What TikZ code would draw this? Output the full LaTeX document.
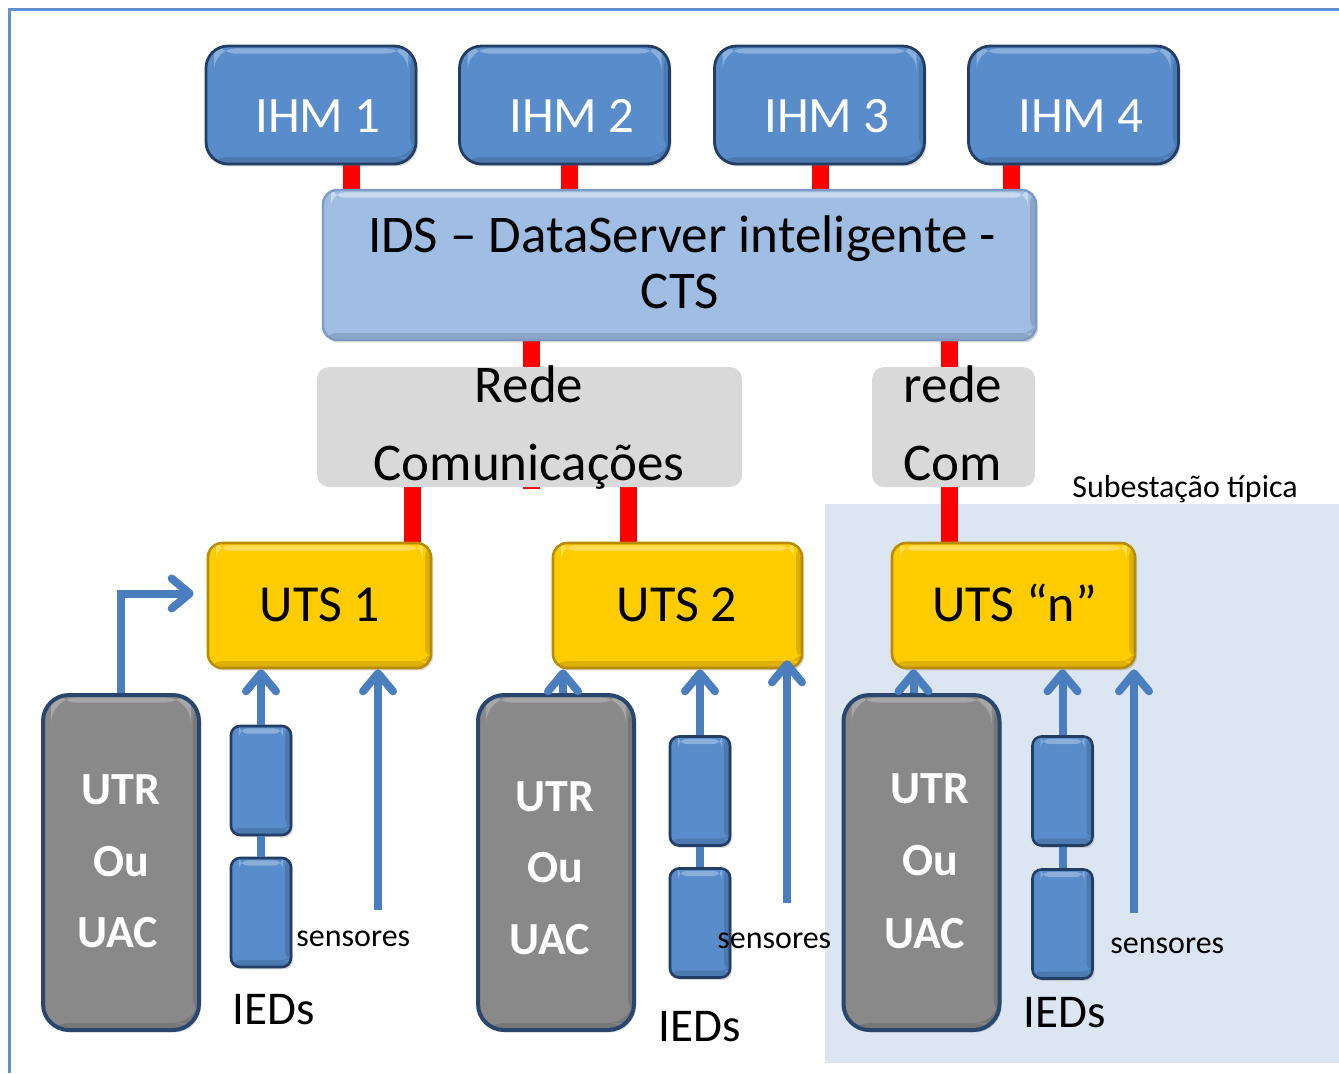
\documentclass[tikz,border=0pt]{standalone}
\usepackage{fontspec}
\setmainfont{Carlito}
\usetikzlibrary{arrows.meta,shadows}
\pgfdeclarelayer{bg}
\pgfdeclarelayer{links}
\pgfsetlayers{bg,links,main}
\definecolor{ihmfill}{RGB}{88,140,203}
\definecolor{ihmedge}{RGB}{35,62,100}
\definecolor{idsfill}{RGB}{160,190,228}
\definecolor{idsedge}{RGB}{125,155,195}
\definecolor{utsfill}{RGB}{255,204,0}
\definecolor{utsedge}{RGB}{185,140,0}
\definecolor{utrfill}{RGB}{137,137,137}
\definecolor{utredge}{RGB}{40,70,110}
\definecolor{netfill}{RGB}{217,217,217}
\definecolor{regfill}{RGB}{220,230,242}
\definecolor{arrblue}{RGB}{74,126,190}
\definecolor{frameblue}{RGB}{95,145,210}
\begin{document}
\begin{tikzpicture}[x=0.5pt,y=-0.5pt,
  hl/.style={path picture={
    \fill[white,opacity=#1] ([xshift=4pt,yshift=-1.2pt]path picture bounding box.north west) rectangle ([xshift=-4pt,yshift=-3.8pt]path picture bounding box.north east);
    \fill[black,opacity=0.13] ([yshift=3.5pt]path picture bounding box.south west) rectangle (path picture bounding box.south east);
    \fill[black,opacity=0.13] ([xshift=-3pt]path picture bounding box.north east) rectangle ([yshift=3.5pt]path picture bounding box.south east);
  }},
  shad/.style={drop shadow={shadow xshift=1pt,shadow yshift=-1.2pt,opacity=0.3}},
  ihmbox/.style={draw=ihmedge, fill=ihmfill, rounded corners=11pt, line width=1.4pt, minimum width=105pt, minimum height=59pt, inner sep=0pt, hl=0.3, shad},
  idsbox/.style={draw=idsedge, fill=idsfill, rounded corners=7pt, line width=1.2pt, minimum width=356.5pt, minimum height=75pt, inner sep=0pt, hl=0.45, shad},
  netbox/.style={fill=netfill, rounded corners=6pt, minimum height=60pt, inner sep=0pt},
  utsbox/.style={draw=utsedge, fill=utsfill, rounded corners=7pt, line width=1.3pt, minimum height=62.5pt, inner sep=0pt, hl=0.35, shad},
  utrbox/.style={draw=utredge, fill=utrfill, rounded corners=13pt, line width=2pt, minimum width=78pt, minimum height=167.5pt, inner sep=0pt, hl=0.25, shad},
  iedbox/.style={draw=ihmedge, fill=ihmfill, rounded corners=4.5pt, line width=1.3pt, minimum width=30pt, minimum height=54.5pt, inner sep=0pt, hl=0.3, shad},
  regionbox/.style={fill=regfill, minimum width=257pt, minimum height=279.5pt, inner sep=0pt},
  ihmtext/.style={text=white, font=\fontsize{25.5}{30}\selectfont, anchor=base, inner sep=0pt},
  bigtext/.style={font=\fontsize{26.5}{32}\selectfont, anchor=base, inner sep=0pt},
  utstext/.style={font=\fontsize{26}{31}\selectfont, anchor=base, inner sep=0pt},
  utrtext/.style={text=white, font=\bfseries\fontsize{23}{28}\selectfont, anchor=base, inner sep=0pt},
  smalltext/.style={font=\fontsize{16}{19}\selectfont, anchor=base west, inner sep=0pt},
  iedtext/.style={font=\fontsize{23.5}{28}\selectfont, anchor=base west, inner sep=0pt},
  redlink/.style={draw=red, line width=8.5pt},
  bline/.style={draw=arrblue, line width=4pt},
  barrow/.style={draw=arrblue, line width=4pt, -{Straight Barb[length=9pt,width=15pt,round]}},
  frameline/.style={draw=frameblue, line width=1.5pt}
]
\useasboundingbox (0,0) rectangle (1339,1073);

% background region
\begin{pgfonlayer}{bg}
\node[regionbox] (region) at (1082,783.5) {};
\end{pgfonlayer}

% frame
\draw[frameline] (9,1073) -- (9,9) -- (1339,9);

% IHM boxes
\node[ihmbox] (ihm1) at (311,105) {};
\node[ihmbox] (ihm2) at (564.5,105) {};
\node[ihmbox] (ihm3) at (819.5,105) {};
\node[ihmbox] (ihm4) at (1073.5,105) {};
\node[ihmtext] (ihm1t) at (318,132) {IHM 1};
\node[ihmtext] (ihm2t) at (572,132) {IHM 2};
\node[ihmtext] (ihm3t) at (827,132) {IHM 3};
\node[ihmtext] (ihm4t) at (1081,132) {IHM 4};

% IDS
\node[idsbox] (ids) at (679.5,265) {};
\node[bigtext] (ids1) at (682,252) {IDS – DataServer inteligente -};
\node[bigtext] (ids2) at (680,308) {CTS};

% networks
\node[netbox, minimum width=212.5pt] (rede) at (529.5,427) {};
\node[netbox, minimum width=81.5pt] (com) at (953.5,427) {};
\node[bigtext] (rede1) at (529,402) {Rede};
\node[bigtext] (rede2) at (529,480) {Comunicações};
\node[bigtext] (com1) at (953,402) {rede};
\node[bigtext] (com2) at (952.5,480) {Com};

\node[smalltext] (subt) at (1072,497) {Subestação típica};

% UTS
\node[utsbox, minimum width=111.5pt] (uts1) at (319.5,605.5) {};
\node[utsbox, minimum width=124.5pt] (uts2) at (677.5,605.5) {};
\node[utsbox, minimum width=121.5pt] (utsn) at (1013.5,605.5) {};
\node[utstext] (uts1t) at (320,621) {UTS 1};
\node[utstext] (uts2t) at (677,621) {UTS 2};
\node[utstext] (utsnt) at (1014.5,621) {UTS “n”};

% UTR
\node[utrbox] (utr1) at (121,862.5) {};
\node[utrbox] (utr2) at (556,862.5) {};
\node[utrbox] (utr3) at (921.5,862.5) {};
\node[utrtext] (utr1a) at (121,804) {UTR};
\node[utrtext] (utr1b) at (121,876) {Ou};
\node[utrtext] (utr1c) at (118,947) {UAC};
\node[utrtext] (utr2a) at (555,811) {UTR};
\node[utrtext] (utr2b) at (555,882) {Ou};
\node[utrtext] (utr2c) at (550,954) {UAC};
\node[utrtext] (utr3a) at (930,803) {UTR};
\node[utrtext] (utr3b) at (930,875) {Ou};
\node[utrtext] (utr3c) at (925,948) {UAC};

% IEDs
\node[iedbox] (ied1a) at (261,780.5) {};
\node[iedbox] (ied1b) at (261,912.5) {};
\node[iedbox] (ied2a) at (700,791) {};
\node[iedbox] (ied2b) at (700,923) {};
\node[iedbox] (ied3a) at (1062.5,791) {};
\node[iedbox] (ied3b) at (1062.5,924) {};

\node[smalltext] (sen1) at (296,946) {sensores};
\node[smalltext] (sen2) at (717,948) {sensores};
\node[smalltext] (sen3) at (1110,953) {sensores};
\node[iedtext] (iedt1) at (232,1024) {IEDs};
\node[iedtext] (iedt2) at (658,1041) {IEDs};
\node[iedtext] (iedt3) at (1023,1027) {IEDs};

% red links
\begin{pgfonlayer}{links}
\draw[redlink] ([xshift=20.25pt]ihm1.center) -- ([xshift=20.25pt]ihm1.center |- ids.center);
\draw[redlink] ([xshift=2.25pt]ihm2.center) -- ([xshift=2.25pt]ihm2.center |- ids.center);
\draw[redlink] ([xshift=0.25pt]ihm3.center) -- ([xshift=0.25pt]ihm3.center |- ids.center);
\draw[redlink] ([xshift=-31pt]ihm4.center) -- ([xshift=-31pt]ihm4.center |- ids.center);
\draw[redlink] ([xshift=-74pt]ids.center) -- ([xshift=-74pt,yshift=-1pt]ids.center |- rede.south);
\draw[redlink] ([xshift=135pt]ids.center) -- ([xshift=135pt]ids.center |- com.center);
\draw[redlink] ([xshift=-58.5pt]rede.center) -- ([xshift=-58.5pt]rede.center |- uts1.center);
\draw[redlink] ([xshift=49.5pt]rede.center) -- ([xshift=49.5pt]rede.center |- uts2.center);
\draw[redlink] ([xshift=-2pt]com.center) -- ([xshift=-2pt]com.center |- utsn.center);
\end{pgfonlayer}

% blue connectors
\draw[barrow] (utr1.north) |- ([xshift=-6.5pt,yshift=6pt]uts1.west);
\draw[barrow] ([xshift=3.5pt]utr2.north) -- ([xshift=3.5pt]utr2.north |- uts2.south);
\draw[barrow] ([xshift=-4pt]utr3.north) -- ([xshift=-4pt]utr3.north |- utsn.south);

\draw[bline] (ied1a.south) -- (ied1b.north);
\draw[bline] (ied2a.south) -- (ied2b.north);
\draw[bline] (ied3a.south) -- (ied3b.north);
\draw[barrow] (ied1a.north) -- (ied1a.north |- uts1.south);
\draw[barrow] (ied2a.north) -- (ied2a.north |- uts2.south);
\draw[barrow] (ied3a.north) -- (ied3a.north |- utsn.south);

\coordinate (s1) at (378,910);
\coordinate (s2) at (787,903);
\coordinate (s3) at (1134,913);
\draw[barrow] (s1) -- (s1 |- uts1.south);
\draw[barrow] (s2) -- ([yshift=4.5pt]s2 |- uts2.south);
\draw[barrow] (s3) -- (s3 |- utsn.south);
\end{tikzpicture}
\end{document}
